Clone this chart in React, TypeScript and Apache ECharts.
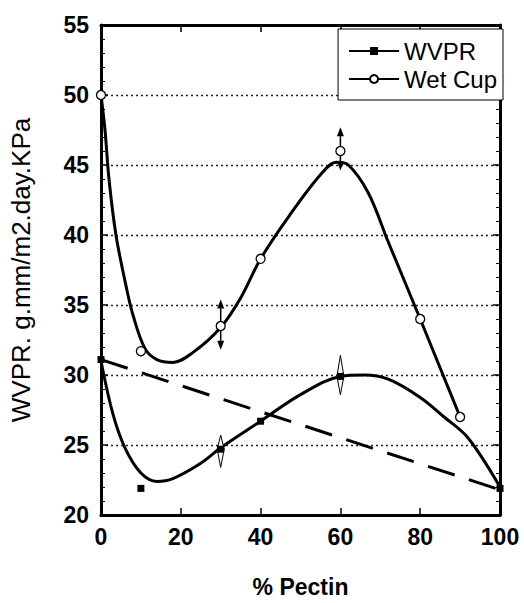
import React, { useEffect, useRef } from "react";
import * as echarts from "echarts";

// measured points
const wvprX = [0, 10, 30, 40, 60, 100];
const wvprY = [31.1, 21.9, 24.7, 26.7, 29.9, 21.9];
const wetX = [0, 10, 30, 40, 60, 80, 90];
const wetY = [50, 31.7, 33.5, 38.3, 46, 34, 27];

// fitted curves
const wvprFitX = [0, 3, 6, 10, 14, 18, 25, 30, 40, 50, 60, 66, 72, 80, 86, 92, 100];
const wvprFitY = [31, 27.2, 24.8, 23.0, 22.4, 22.6, 23.7, 24.8, 26.7, 28.6, 29.9, 30.0, 29.7, 28.4, 27.0, 25.5, 22];
const wetFitX = [0, 1, 2, 3.75, 6.25, 8, 11, 14, 18, 23, 30, 35, 40, 47, 55, 59, 62, 67, 72, 80, 85, 90];
const wetFitY = [50, 47.5, 44, 40, 36.4, 34.3, 31.9, 31.1, 30.9, 31.6, 33.4, 35.5, 38.3, 41.3, 44.3, 45.2, 45.0, 43.0, 39.5, 34, 30.5, 27];

// linear trend (dashed)
const trendX = [0, 100];
const trendY = [31.1, 21.8];

// error bars: x, centre, low, high
const wetErrX = [30, 60];
const wetErrC = [33.5, 46];
const wetErrLo = [31.8, 44.6];
const wetErrHi = [35.4, 47.7];
const wvprErrX = [30, 60];
const wvprErrC = [24.7, 29.9];
const wvprErrLo = [23.4, 28.6];
const wvprErrHi = [25.7, 31.4];

const yTicks = [20, 55, 5];
const xTicks = [0, 100, 20];

const zip = (a: number[], b: number[]) => a.map((v, i) => [v, b[i]]);

const FONT = "'Liberation Sans', Arial, sans-serif";

export default function App() {
  const ref = useRef<HTMLDivElement>(null);
  useEffect(() => {
    if (!ref.current) return;
    const chart = echarts.init(ref.current, null, { renderer: "svg" });

    const errRender = (filled: boolean) => (params: any, api: any) => {
      const x = api.value(0);
      const c = api.coord([x, api.value(1)]);
      const lo = api.coord([x, api.value(2)]);
      const hi = api.coord([x, api.value(3)]);
      const children: any[] = [];
      if (filled) {
        const head = 9;
        const hw = 3.5;
        children.push({ type: "line", shape: { x1: c[0], y1: c[1], x2: hi[0], y2: hi[1] + head }, style: { stroke: "#000", lineWidth: 1.5 } });
        children.push({ type: "line", shape: { x1: c[0], y1: c[1], x2: lo[0], y2: lo[1] - head }, style: { stroke: "#000", lineWidth: 1.5 } });
        children.push({ type: "polygon", shape: { points: [[hi[0], hi[1]], [hi[0] - hw, hi[1] + head], [hi[0] + hw, hi[1] + head]] }, style: { fill: "#000" } });
        children.push({ type: "polygon", shape: { points: [[lo[0], lo[1]], [lo[0] - hw, lo[1] - head], [lo[0] + hw, lo[1] - head]] }, style: { fill: "#000" } });
      } else {
        const hw = 3.5;
        children.push({ type: "polygon", shape: { points: [[hi[0], hi[1]], [c[0] - hw, c[1]], [c[0] + hw, c[1]]] }, style: { fill: "#fff", stroke: "#000", lineWidth: 1 } });
        children.push({ type: "polygon", shape: { points: [[lo[0], lo[1]], [c[0] - hw, c[1]], [c[0] + hw, c[1]]] }, style: { fill: "#fff", stroke: "#000", lineWidth: 1 } });
      }
      return { type: "group", children };
    };

    const axisLine = { show: true, onZero: false, lineStyle: { color: "#000", width: 3 } };

    chart.setOption({
      animation: false,
      backgroundColor: "#fff",
      grid: { left: 100, right: 24, top: 25, bottom: 83 },
      legend: {
        right: 21,
        top: 29,
        orient: "vertical",
        backgroundColor: "#fff",
        borderColor: "#000",
        borderWidth: 1,
        borderRadius: 0,
        padding: [10, 6, 9, 10],
        itemGap: 4,
        itemWidth: 50,
        itemHeight: 10,
        data: ["WVPR", "Wet Cup"],
        textStyle: { fontFamily: FONT, fontSize: 24, color: "#000" },
      },
      xAxis: [
        {
          type: "value",
          min: xTicks[0],
          max: xTicks[1],
          interval: xTicks[2],
          name: "% Pectin",
          nameLocation: "middle",
          nameGap: 60,
          nameTextStyle: { fontFamily: FONT, fontSize: 23, fontWeight: "bold", color: "#000" },
          axisLine,
          axisTick: { show: true, inside: true, length: 7, lineStyle: { color: "#000", width: 1.5 } },
          axisLabel: { fontFamily: FONT, fontSize: 23, fontWeight: "bold", color: "#000", margin: 10 },
          splitLine: { show: false },
        },
        {
          type: "value",
          position: "top",
          min: xTicks[0],
          max: xTicks[1],
          interval: xTicks[2],
          axisLine,
          axisTick: { show: true, inside: true, length: 7, lineStyle: { color: "#000", width: 1.5 } },
          axisLabel: { show: false },
          splitLine: { show: false },
        },
      ],
      yAxis: [
        {
          type: "value",
          min: yTicks[0],
          max: yTicks[1],
          interval: yTicks[2],
          name: "WVPR. g.mm/m2.day.KPa",
          nameLocation: "middle",
          nameGap: 67,
          nameTextStyle: { fontFamily: FONT, fontSize: 26, color: "#000" },
          axisLine,
          axisTick: { show: true, inside: true, length: 7, lineStyle: { color: "#000", width: 1.5 } },
          minorTick: { show: true, splitNumber: 5, length: 4, lineStyle: { color: "#000", width: 1 } },
          axisLabel: { fontFamily: FONT, fontSize: 23, fontWeight: "bold", color: "#000", margin: 12 },
          splitLine: { show: true, lineStyle: { color: "#222", type: [2, 3], width: 1.3 } },
        },
        {
          type: "value",
          position: "right",
          min: yTicks[0],
          max: yTicks[1],
          interval: yTicks[2],
          axisLine,
          axisTick: { show: true, inside: true, length: 7, lineStyle: { color: "#000", width: 1.5 } },
          minorTick: { show: true, splitNumber: 5, length: 4, lineStyle: { color: "#000", width: 1 } },
          axisLabel: { show: false },
          splitLine: { show: false },
        },
      ],
      series: [
        {
          name: "trend",
          type: "line",
          data: zip(trendX, trendY),
          showSymbol: false,
          symbol: "none",
          lineStyle: { color: "#000", width: 3, type: [28, 15] },
          silent: true,
          z: 2,
        },
        {
          name: "WVPR",
          type: "line",
          data: zip(wvprFitX, wvprFitY),
          smooth: 0.35,
          showSymbol: false,
          symbol: "rect",
          symbolSize: 8,
          itemStyle: { color: "#000" },
          lineStyle: { color: "#000", width: 3 },
          z: 3,
        },
        {
          name: "Wet Cup",
          type: "line",
          data: zip(wetFitX, wetFitY),
          smooth: 0.35,
          showSymbol: false,
          symbol: "circle",
          symbolSize: 9,
          itemStyle: { color: "#fff", borderColor: "#000", borderWidth: 1.5 },
          lineStyle: { color: "#000", width: 3 },
          z: 3,
        },
        {
          name: "wetErr",
          type: "custom",
          renderItem: errRender(true),
          data: wetErrX.map((x, i) => [x, wetErrC[i], wetErrLo[i], wetErrHi[i]]),
          z: 4,
        },
        {
          name: "wvprErr",
          type: "custom",
          renderItem: errRender(false),
          data: wvprErrX.map((x, i) => [x, wvprErrC[i], wvprErrLo[i], wvprErrHi[i]]),
          z: 4,
        },
        {
          name: "WVPR pts",
          type: "scatter",
          data: zip(wvprX, wvprY),
          symbol: "rect",
          symbolSize: 7,
          itemStyle: { color: "#000", opacity: 1 },
          z: 5,
        },
        {
          name: "Wet Cup pts",
          type: "scatter",
          data: zip(wetX, wetY),
          symbol: "circle",
          symbolSize: 9,
          itemStyle: { color: "#fff", borderColor: "#000", borderWidth: 1.3, opacity: 1 },
          z: 5,
        },
      ],
    });
    return () => chart.dispose();
  }, []);
  return <div ref={ref} style={{ width: 524, height: 603, position: "absolute", left: 0, top: 0 }} />;
}
